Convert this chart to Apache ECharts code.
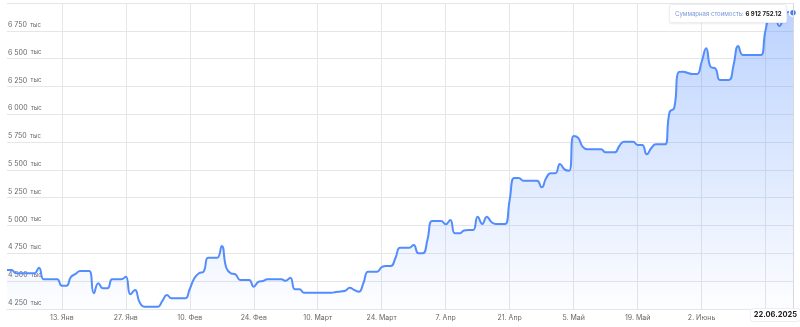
<!DOCTYPE html>
<html><head><meta charset="utf-8">
<script src="https://cdn.jsdelivr.net/npm/echarts@6/dist/echarts.min.js"></script>
<style>html,body{margin:0;padding:0;background:#fff}#c{width:800px;height:327px}</style>
</head><body><div id="c"></div>
<script>
// Daily portfolio value, thousands of RUB, starting 2025-01-01
const startYear = 2025, startMonth = 0, startDay = 1;
const values = [
  4600,4600,4571,4571,4571,4571,4571,4621,4517,4517,
  4517,4517,4459,4459,4538,4565,4591,4591,4591,4391,
  4481,4436,4436,4517,4517,4517,4540,4382,4421,4313,
  4271,4271,4271,4271,4322,4376,4346,4346,4346,4346,
  4430,4526,4571,4585,4711,4711,4711,4816,4618,4571,
  4562,4511,4511,4511,4450,4493,4502,4517,4517,4517,
  4517,4504,4531,4427,4427,4396,4396,4396,4396,4396,
  4396,4396,4403,4407,4414,4441,4421,4405,4484,4585,
  4585,4585,4627,4636,4636,4708,4801,4801,4801,4825,
  4751,4751,4870,5041,5041,5041,5011,5050,4930,4930,
  4955,4960,4960,5080,5014,5080,5032,5014,5014,5014,
  5230,5427,5427,5403,5403,5403,5403,5344,5427,5470,
  5470,5553,5505,5493,5805,5787,5706,5685,5685,5685,
  5685,5658,5658,5658,5715,5754,5754,5754,5724,5724,
  5640,5697,5730,5730,5730,6020,6056,6380,6383,6371,
  6362,6362,6470,6593,6425,6413,6308,6308,6308,6443,
  6614,6533,6533,6533,6533,6533,6757,6862,6862,6793,
  6877,6919,6912.75212
];
const seriesName = 'Суммарная стоимость';
const monthNames = ['Янв','Фев','Март','Апр','Май','Июнь','Июль','Авг','Сен','Окт','Ноя','Дек'];
const yMin = 4250, yMax = 7000, yStep = 250;
const firstTickIndex = 12, tickEvery = 14;   // 13. Янв, then every two weeks

function pad(n){return (n<10?'0':'')+n;}
const dates = values.map((v,i)=>{
  const d = new Date(Date.UTC(startYear,startMonth,startDay+i));
  return d.getUTCFullYear()+'-'+pad(d.getUTCMonth()+1)+'-'+pad(d.getUTCDate());
});
function group(s){return s.replace(/\B(?=(\d{3})+(?!\d))/g,' ');}
function isTick(i){return i>=firstTickIndex && (i-firstTickIndex)%tickEvery===0;}

const chart = echarts.init(document.getElementById('c'), null, {renderer:'canvas'});
const FONT = 'Inter, "Noto Sans", sans-serif';
chart.setOption({
  animation:false,
  grid:{left:7, right:7, top:3, bottom:18, containLabel:false},
  tooltip:{
    trigger:'axis',
    position:[669,4],
    transitionDuration:0,
    backgroundColor:'#ffffff',
    borderColor:'#eceef3',
    borderWidth:1,
    padding:[3,5],
    extraCssText:'box-shadow:0 1px 2px rgba(0,0,0,0.08);border-radius:2px;line-height:11px;',
    textStyle:{fontFamily:FONT,fontSize:6,color:'#222'},
    axisPointer:{type:'line', lineStyle:{color:'#d6d9e0',width:1,type:'solid'},
      label:{show:true, backgroundColor:'#ffffff', color:'#222', fontFamily:FONT, fontSize:7.5, fontWeight:'bold',
        padding:[2,3,2,3], borderColor:'#eceef3', borderWidth:1, shadowBlur:0, margin:0,
        formatter:function(p){const s=p.value.split('-');return s[2]+'.'+s[1]+'.'+s[0];}}},
    formatter:function(ps){
      const v=(ps[0].value*1000).toFixed(2).split('.');
      return '<span style="color:#7a98d8">'+seriesName+':</span> <b style="color:#222">'+group(v[0])+'.'+v[1]+'</b>';
    }
  },
  xAxis:{
    type:'category', data:dates, boundaryGap:false,
    axisLine:{show:true, lineStyle:{color:'#e6e6e6'}},
    axisTick:{show:false},
    axisLabel:{interval:function(i){return isTick(i);}, fontFamily:FONT, fontSize:7, color:'#666', margin:5,
      formatter:function(v){const s=v.split('-');return (+s[2])+'. '+monthNames[+s[1]-1];}},
    splitLine:{show:true, interval:function(i){return isTick(i);}, lineStyle:{color:'#e6e6e6',width:1}}
  },
  yAxis:{
    type:'value', min:yMin, max:yMax, interval:yStep,
    axisLine:{show:false}, axisTick:{show:false},
    splitLine:{lineStyle:{color:'#e6e6e6',width:1}},
    axisLabel:{inside:true, margin:1, verticalAlign:'bottom', showMaxLabel:false,
      formatter:function(v){return '{a|'+group(String(v))+'} {b|тыс}';},
      rich:{a:{fontFamily:FONT,fontSize:7,color:'#666'},b:{fontFamily:FONT,fontSize:6,color:'#666'}}}
  },
  series:[{
    name:seriesName, type:'line', data:values, smooth:0.5, showSymbol:false,
    symbol:'circle', symbolSize:7,
    itemStyle:{color:'#4b80e6', borderColor:'#fff', borderWidth:1.5},
    lineStyle:{color:'#4b80e6', width:2},
    areaStyle:{color:new echarts.graphic.LinearGradient(0,0,0,1,[
      {offset:0,color:'rgba(75,128,230,0.55)'},{offset:1,color:'rgba(75,128,230,0.02)'}])},
    emphasis:{disabled:false, scale:false}
  }]
});
chart.dispatchAction({type:'showTip', seriesIndex:0, dataIndex:values.length-1});
</script></body></html>
